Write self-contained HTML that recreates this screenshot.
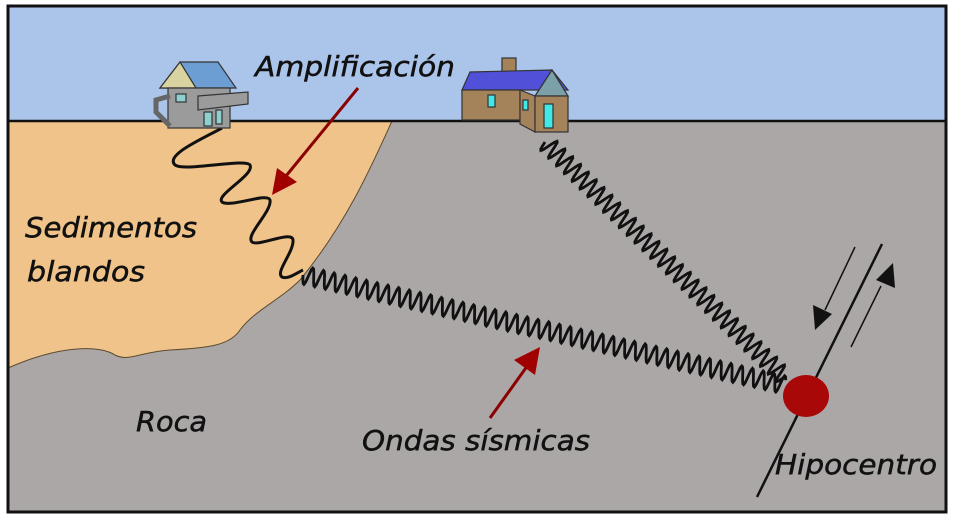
<!DOCTYPE html>
<html><head><meta charset="utf-8"><style>
html,body{margin:0;padding:0;background:#fff;}
svg{display:block;}
text{font-family:"DejaVu Sans","Liberation Sans",sans-serif;font-style:italic;fill:#111;stroke:#111;stroke-width:0.5;}
</style></head><body>
<svg id="s" width="953" height="520" viewBox="0 0 953 520">
<rect x="0" y="0" width="953" height="520" fill="#fff"/>
<rect x="8" y="6" width="938" height="115" fill="#abc5ea"/>
<rect x="8" y="121" width="938" height="391" fill="#aca7a7"/>
<path d="M8,121 L392,121 C370,170 345,225 300,280 C280,300 255,310 240,330 C230,345 210,348 170,350 C140,352 128,362 115,355 C100,345 60,345 8,368 Z" fill="#efc389" stroke="#5a4a30" stroke-width="1"/>
<line x1="8" y1="121" x2="946" y2="121" stroke="#111" stroke-width="2.5"/>
<rect x="8" y="6" width="938" height="506" fill="none" stroke="#111" stroke-width="3"/>
<path d="M222,128 C200,140 165,155 175,165 C185,172 245,158 250,165 C255,175 215,195 222,202 C230,208 268,192 270,200 C272,212 245,235 252,242 C258,247 292,230 293,240 C294,252 275,272 282,277 C288,280 298,272 303,270" fill="none" stroke="#111" stroke-width="3"/>
<g id="waves" fill="none" stroke="#111" stroke-width="2.8"></g>
<line x1="358" y1="88" x2="286" y2="176" stroke="#8b0000" stroke-width="3"/>
<polygon points="272,195 277,168 297,182" fill="#a00000"/>
<line x1="490" y1="418" x2="528" y2="365" stroke="#8b0000" stroke-width="3"/>
<polygon points="540,347 535,375 514,360" fill="#a00000"/>
<line x1="757" y1="497" x2="882" y2="244" stroke="#111" stroke-width="2.5"/>
<line x1="855" y1="247" x2="825" y2="310" stroke="#111" stroke-width="1.5"/>
<polygon points="815,330 813,305 832,314" fill="#111"/>
<line x1="851" y1="347" x2="881" y2="286" stroke="#111" stroke-width="1.5"/>
<polygon points="893,263 895,288 876,280" fill="#111"/>
<ellipse cx="806" cy="396" rx="23" ry="21" fill="#a80808"/>
<g stroke="#333" stroke-width="1.2">
<polygon points="160,88 180,62 218,62 236,88" fill="#6d9ed3"/>
<polygon points="160,88 180,62 196,88" fill="#d8d3a0"/>
<rect x="168" y="88" width="62" height="40" fill="#9b9b9b"/>
<polygon points="198,96 248,92 248,104 198,110" fill="#9b9b9b"/>
<path d="M170,96 L156,100 L156,112 L170,126" fill="none" stroke="#666" stroke-width="5"/>
<rect x="176" y="94" width="10" height="8" fill="#8ed0d0"/>
<rect x="204" y="112" width="8" height="14" fill="#8ed0d0"/>
<rect x="216" y="110" width="6" height="14" fill="#8ed0d0"/>
</g>
<g stroke="#333" stroke-width="1.2">
<rect x="502" y="58" width="14" height="24" fill="#a4825a"/>
<polygon points="462,90 470,72 552,70 568,90" fill="#5050d8"/>
<rect x="462" y="90" width="58" height="30" fill="#a4825a"/>
<polygon points="520,90 535,96 535,132 520,124" fill="#a4825a"/>
<polygon points="535,96 552,70 568,96" fill="#7ca0a8"/>
<rect x="535" y="96" width="33" height="36" fill="#a4825a"/>
<rect x="488" y="95" width="7" height="12" fill="#40e8e8"/>
<rect x="544" y="104" width="9" height="24" fill="#40e8e8"/>
<rect x="523" y="100" width="5" height="10" fill="#40e8e8"/>
</g>
<text x="255" y="76" font-size="28" textLength="200" lengthAdjust="spacingAndGlyphs">Amplificación</text>
<text x="25" y="237" font-size="28" textLength="172" lengthAdjust="spacingAndGlyphs">Sedimentos</text>
<text x="27" y="281" font-size="28" textLength="118" lengthAdjust="spacingAndGlyphs">blandos</text>
<text x="136" y="431" font-size="28" textLength="71" lengthAdjust="spacingAndGlyphs">Roca</text>
<text x="362" y="450" font-size="28" textLength="228" lengthAdjust="spacingAndGlyphs">Ondas  sísmicas</text>
<text x="775" y="474" font-size="28" textLength="162" lengthAdjust="spacingAndGlyphs">Hipocentro</text>
</svg>
<script>
function wave(x1,y1,x2,y2,amp,wl){
 var dx=x2-x1,dy=y2-y1,L=Math.hypot(dx,dy),ux=dx/L,uy=dy/L,nx=-uy,ny=ux,d="";
 for(var t=0;t<=L;t+=1){var a=amp*Math.sin(t/wl*2*Math.PI);var x=x1+ux*t+nx*a,y=y1+uy*t+ny*a;d+=(t?"L":"M")+x.toFixed(1)+","+y.toFixed(1);}
 var p=document.createElementNS("http://www.w3.org/2000/svg","path");p.setAttribute("d",d);document.getElementById("waves").appendChild(p);
}
wave(303,275,785,385,9,11);
wave(545,142,785,378,9,11);
</script>
</body></html>
